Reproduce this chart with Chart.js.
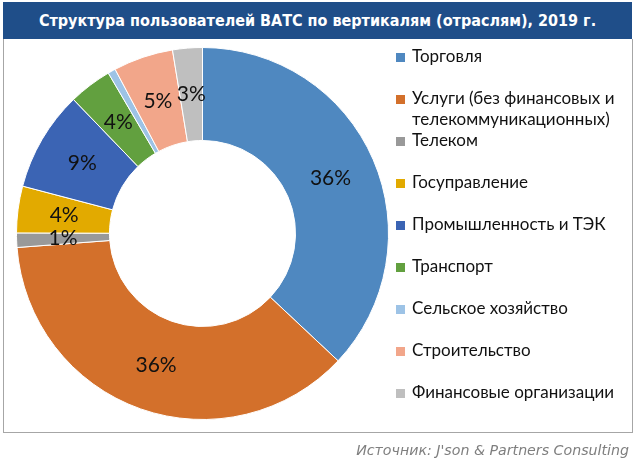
<!DOCTYPE html>
<html>
<head>
<meta charset="utf-8">
<script src="https://cdn.jsdelivr.net/npm/chart.js@4/dist/chart.umd.min.js"></script>
<style>
  html, body { margin: 0; padding: 0; background: #fff; }
  #wrap { position: relative; width: 635px; height: 459px; overflow: hidden; }
  #titlebar { position: absolute; left: 3px; top: 2px; width: 629px; height: 37px; background: #1F4E89;
    color: #fff; font: bold 16px "DejaVu Sans Condensed", "DejaVu Sans", sans-serif; line-height: 37px; text-align: center; }
  #frame { position: absolute; left: 3px; top: 39px; width: 628px; height: 393px; border: 1px solid #A6A6A6; border-top: none; }
  #chart { position: absolute; left: 0; top: 0; }
  #legend { position: absolute; left: 396px; top: 0; font: 17px Lato, "Open Sans", sans-serif; color: #111; }
  .li { position: absolute; left: 0; white-space: nowrap; line-height: 20.7px; }
  .sw { position: absolute; left: 0; width: 9px; height: 9px; }
  .tx { position: absolute; left: 16px; }
  #source { position: absolute; right: 6px; top: 442px; font: italic 14.2px "DejaVu Sans", sans-serif; color: #7F7F7F; white-space: nowrap; }
</style>
</head>
<body>
<div id="wrap">
  <div id="titlebar">Структура пользователей ВАТС по вертикалям (отраслям), 2019 г.</div>
  <div id="frame"></div>
  <canvas id="chart" width="635" height="459"></canvas>
  <div id="legend"></div>
  <div id="source">Источник: J'son &amp; Partners Consulting</div>
</div>
<script>
const categories = [
  "Торговля",
  "Услуги (без финансовых и телекоммуникационных)",
  "Телеком",
  "Госуправление",
  "Промышленность и ТЭК",
  "Транспорт",
  "Сельское хозяйство",
  "Строительство",
  "Финансовые организации"
];
const legendLines = [
  ["Торговля"],
  ["Услуги (без финансовых и", "телекоммуникационных)"],
  ["Телеком"],
  ["Госуправление"],
  ["Промышленность и ТЭК"],
  ["Транспорт"],
  ["Сельское хозяйство"],
  ["Строительство"],
  ["Финансовые организации"]
];
const shares = [37.0, 36.8, 1.25, 4.05, 8.7, 3.75, 0.67, 5.2, 2.58];
const valueLabels = ["36%", "36%", "1%", "4%", "9%", "4%", "", "5%", "3%"];
const colors = ["#4F88C0", "#D3702B", "#999999", "#E2AA00", "#3B64B4", "#62A03F", "#9DC3E6", "#F2A68A", "#BFBFBF"];

const labelPlugin = {
  id: 'sliceLabels',
  afterDatasetsDraw(chart) {
    const ctx = chart.ctx;
    const meta = chart.getDatasetMeta(0);
    ctx.save();
    ctx.font = '21px Lato, "Open Sans", sans-serif';
    ctx.fillStyle = '#111';
    ctx.textAlign = 'center';
    ctx.textBaseline = 'middle';
    meta.data.forEach((arc, i) => {
      const t = valueLabels[i];
      if (!t) return;
      const p = arc.getCenterPoint();
      ctx.fillText(t, p.x, p.y);
    });
    ctx.restore();
  }
};

new Chart(document.getElementById('chart'), {
  type: 'doughnut',
  data: {
    labels: categories,
    datasets: [{
      data: shares,
      backgroundColor: colors,
      borderColor: '#ffffff',
      borderWidth: 1
    }]
  },
  options: {
    responsive: false,
    animation: false,
    cutout: '50%',
    layout: { padding: { left: 16, top: 47, right: 246, bottom: 39 } },
    plugins: { legend: { display: false }, tooltip: { enabled: false }, title: { display: false } }
  },
  plugins: [labelPlugin]
});

const legend = document.getElementById('legend');
const itemTops = [57, 99, 141, 183, 225, 267, 308.5, 350.5, 392.5];
legendLines.forEach((lines, i) => {
  const d = document.createElement('div');
  d.className = 'li';
  d.style.top = (itemTops[i] - 11) + 'px';
  const sw = document.createElement('div');
  sw.className = 'sw';
  sw.style.background = colors[i];
  sw.style.top = '7px';
  const tx = document.createElement('div');
  tx.className = 'tx';
  tx.innerHTML = lines.join('<br>');
  d.appendChild(sw);
  d.appendChild(tx);
  legend.appendChild(d);
});
</script>
</body>
</html>
